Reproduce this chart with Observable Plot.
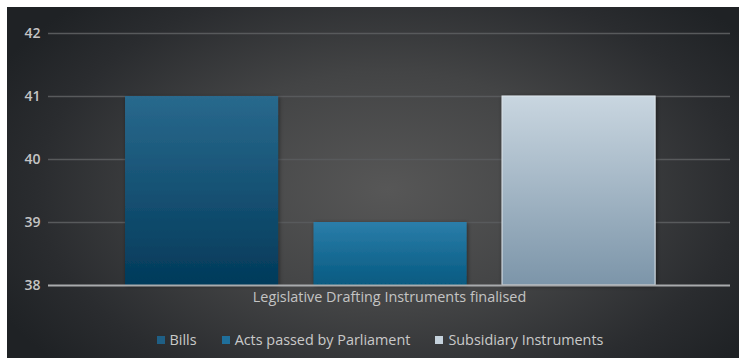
<!DOCTYPE html>
<html>
<head>
<meta charset="utf-8">
<script src="https://cdn.jsdelivr.net/npm/d3@7"></script>
<script src="https://cdn.jsdelivr.net/npm/@observablehq/plot@0.6"></script>
<style>
  html, body { margin: 0; padding: 0; background: #ffffff; }
  #panel {
    position: absolute; left: 7px; top: 7px; width: 732px; height: 351px; overflow: hidden;
    background: radial-gradient(ellipse 60% 75% at 52% 52%, #575757 0%, #434445 45%, #2a2c2f 80%, #1f2225 100%);
    font-family: "Open Sans", "Liberation Sans", Arial, sans-serif;
  }
  #legend {
    position: absolute; left: 7px; top: 323px; width: 732px;
    display: flex; justify-content: center; gap: 25px;
    font-size: 14.4px; font-weight: 500; color: #c9c9c9;
  }
  #legend .item { display: flex; align-items: center; }
  #legend .sw { width: 8px; height: 8px; margin-right: 5px; }
</style>
</head>
<body>
<div id="panel"><div id="chart"></div><div id="legend"></div></div>
<script>
const categories = ["Bills", "Acts passed by Parliament", "Subsidiary Instruments"];
const values = [41, 39, 41];
const yTicks = [38, 39, 40, 41, 42];
const yDomain = [38, 42];
const xLabel = "Legislative Drafting Instruments finalised";
const gradients = [
  ["#29698d", "#023a5a"],
  ["#2b7eaa", "#065a81"],
  ["#c9d6e0", "#7c95a9"]
];
const barStrokes = ["none", "none", "#dde5eb"];
const swatchColors = ["#1f5f85", "#1f6f9b", "#c5d2dc"];

const data = categories.map((c, i) => ({series: c, value: values[i], idx: i}));

const plot = Plot.plot({
  width: 732,
  height: 310,
  marginTop: 26,
  marginBottom: 32,
  marginLeft: 41,
  marginRight: 9,
  style: {background: "transparent", color: "#c4c4c4", fontFamily: "'Open Sans', 'Liberation Sans', Arial, sans-serif", fontSize: "14px"},
  x: {domain: categories, paddingInner: 0.188, paddingOuter: 0.403, align: 0.507, round: false, axis: null},
  y: {domain: yDomain, ticks: yTicks, label: null},
  marks: [
    Plot.gridY(yTicks.filter(t => t !== yDomain[0]), {stroke: "#585a5c", strokeOpacity: 1, strokeWidth: 1.5}),
    Plot.axisY({ticks: yTicks, tickFormat: d => String(d), tickSize: 0, tickPadding: 8, textAnchor: "end", label: null, fill: "#c4c4c4", fontSize: 14, fontWeight: 600}),
    Plot.barY(data, {x: "series", y1: yDomain[0], y2: "value", fill: d => `url(#grad${d.idx})`, stroke: d => barStrokes[d.idx], strokeWidth: 1}),
    Plot.ruleY([yDomain[0]], {stroke: "#a9abad", strokeWidth: 2}),
    Plot.text([xLabel], {frameAnchor: "bottom", dy: 16, fill: "#c4c4c4", fontSize: 14.4, fontWeight: 500})
  ]
});

const svg = d3.select(plot);
const defs = svg.insert("defs", ":first-child");
gradients.forEach((g, i) => {
  const lg = defs.append("linearGradient").attr("id", `grad${i}`).attr("x1", 0).attr("y1", 0).attr("x2", 0).attr("y2", 1);
  lg.append("stop").attr("offset", "0%").attr("stop-color", g[0]);
  lg.append("stop").attr("offset", "100%").attr("stop-color", g[1]);
});
const f = defs.append("filter").attr("id", "shadow").attr("x", "-10%").attr("y", "-10%").attr("width", "130%").attr("height", "130%");
f.append("feDropShadow").attr("dx", 1).attr("dy", 1).attr("stdDeviation", 2).attr("flood-color", "#000").attr("flood-opacity", 0.45);
svg.selectAll("g[aria-label='bar'] rect").attr("filter", "url(#shadow)");

document.getElementById("chart").appendChild(plot);

const legend = d3.select("#legend");
categories.forEach((c, i) => {
  const it = legend.append("div").attr("class", "item");
  it.append("div").attr("class", "sw").style("background", swatchColors[i]);
  it.append("span").text(c);
});
</script>
</body>
</html>
